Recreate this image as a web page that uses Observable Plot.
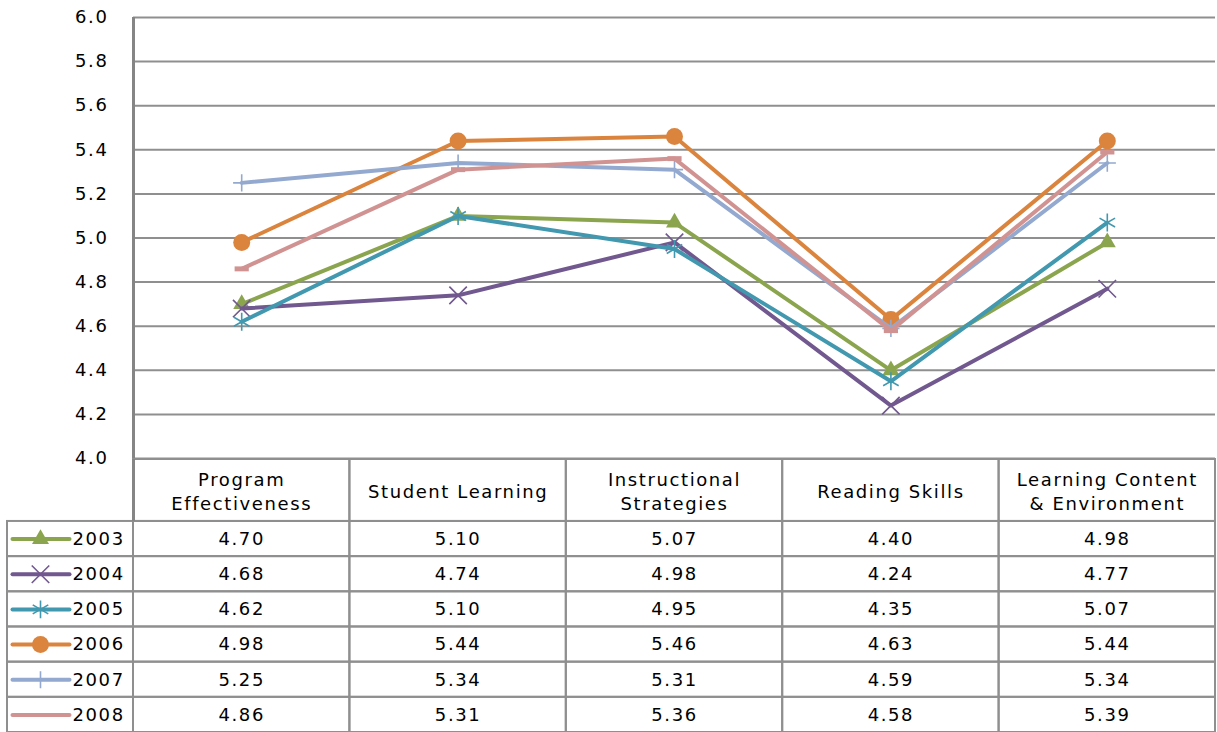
<!DOCTYPE html>
<html><head><meta charset="utf-8">
<script src="https://cdn.jsdelivr.net/npm/d3@7"></script>
<script src="https://cdn.jsdelivr.net/npm/@observablehq/plot@0.6"></script>
<style>
body{margin:0;background:#fff;}
#chart svg{display:block;}
#chart svg text{letter-spacing:1.6px;}
</style></head><body><div id="chart"></div>
<script>
// ---- data ----
const categories = ["Program\nEffectiveness", "Student Learning", "Instructional\nStrategies", "Reading Skills", "Learning Content\n& Environment"];
const years = ["2003", "2004", "2005", "2006", "2007", "2008"];
const v2003 = [4.70, 5.10, 5.07, 4.40, 4.98];
const v2004 = [4.68, 4.74, 4.98, 4.24, 4.77];
const v2005 = [4.62, 5.10, 4.95, 4.35, 5.07];
const v2006 = [4.98, 5.44, 5.46, 4.63, 5.44];
const v2007 = [5.25, 5.34, 5.31, 4.59, 5.34];
const v2008 = [4.86, 5.31, 5.36, 4.58, 5.39];
const yTicks = [4.0, 4.2, 4.4, 4.6, 4.8, 5.0, 5.2, 5.4, 5.6, 5.8, 6.0];

// ---- styles ----
const series = [v2003, v2004, v2005, v2006, v2007, v2008];
const colors = ["#8BA54F", "#71588F", "#4198AF", "#DB843D", "#93A9CF", "#D19392"];
const dash = {draw(ctx, size) { const s = Math.sqrt(size); ctx.rect(-s * 0.8, -s * 0.28, s * 1.6, s * 0.56); }};
const markers = [
  {symbol: "triangle", r: 6.3, filled: true},
  {symbol: "times", r: 8, filled: false},
  {symbol: "asterisk", r: 8.5, filled: false},
  {symbol: "circle", r: 8.5, filled: true},
  {symbol: "plus", r: 5.6, filled: false},
  {symbol: dash, r: 5, filled: true}
];
const gridColor = "#8f8f8f";
const font = {fontFamily: "'DejaVu Sans', sans-serif", fontSize: "18px", color: "#000", overflow: "visible", background: "transparent"};

const rows = years.flatMap((yr, s) => series[s].map((v, i) => ({year: yr, s, i, value: v})));

const W = 1217;
const chartLeft = 133, chartRight = 2;
const colPx = (W - chartLeft - chartRight) / categories.length;

// ---- line chart ----
const lineMarks = [];
years.forEach((yr, s) => {
  const d = rows.filter(r => r.s === s);
  const m = markers[s];
  lineMarks.push(Plot.line(d, {x: r => r.i + 0.5, y: "value", stroke: colors[s], strokeWidth: 4}));
  lineMarks.push(Plot.dot(d, {x: r => r.i + 0.5, y: "value", symbol: () => m.symbol, r: m.r,
    fill: m.filled ? colors[s] : "none", stroke: m.filled ? "none" : colors[s], strokeWidth: 1.6}));
});

const chart = Plot.plot({
  width: W, height: 459,
  marginTop: 17, marginBottom: 1, marginLeft: chartLeft, marginRight: chartRight,
  style: font,
  x: {domain: [0, categories.length], axis: null},
  y: {domain: [4, 6], ticks: yTicks, tickFormat: d => d.toFixed(1), tickSize: 0, tickPadding: 25, label: null},
  symbol: {type: "identity"},
  marks: [
    Plot.ruleY(yTicks, {stroke: gridColor, strokeWidth: 2}),
    Plot.ruleX([0], {stroke: "#858585", strokeWidth: 3}),
    ...lineMarks
  ]
});

// ---- data table ----
const legendPx = chartLeft - 7;
const legendU = legendPx / colPx;      // legend column width in column units
const rowPx = 35.2;
const headerU = 62 / rowPx;           // header height in row units
const px = 1 / colPx;                 // one pixel in column units

const headerCells = categories.map((c, i) => ({c, i}));
const bodyCells = years.flatMap((yr, r) => [{x1: -legendU, x2: 0, r}, ...categories.map((c, i) => ({x1: i, x2: i + 1, r}))]);
const legendRows = years.map((yr, s) => ({yr, s}));

const legendMarks = [];
legendRows.forEach(({yr, s}) => {
  const m = markers[s];
  legendMarks.push(Plot.link([yr], {x1: -legendU + 5 * px, x2: -legendU + 62 * px, y1: s + 0.5, y2: s + 0.5, stroke: colors[s], strokeWidth: 4, strokeLinecap: "round"}));
  if (s < 5) legendMarks.push(Plot.dot([yr], {x: -legendU + 33 * px, y: s + 0.5, symbol: () => m.symbol, r: m.r,
    fill: m.filled ? colors[s] : "none", stroke: m.filled ? "none" : colors[s], strokeWidth: 1.6}));
});

const table = Plot.plot({
  width: W, height: 273,
  marginTop: 0, marginBottom: 0, marginLeft: chartLeft - legendPx, marginRight: chartRight,
  style: font,
  x: {domain: [-legendU, categories.length], axis: null},
  y: {domain: [years.length, -headerU], axis: null},
  symbol: {type: "identity"},
  marks: [
    Plot.rect(headerCells, {x1: d => d.i, x2: d => d.i + 1, y1: -headerU, y2: 0, fill: "none", stroke: gridColor, strokeWidth: 2}),
    Plot.rect(bodyCells, {x1: "x1", x2: "x2", y1: d => d.r, y2: d => d.r + 1, fill: "none", stroke: gridColor, strokeWidth: 2}),
    Plot.ruleX([0], {y1: -headerU, y2: 0, stroke: "#858585", strokeWidth: 3}),
    Plot.text(headerCells, {x: d => d.i + 0.5, y: -headerU / 2, text: "c", lineHeight: 1.33, fill: "#000"}),
    Plot.text(rows, {x: d => d.i + 0.5, y: d => d.s + 0.5, text: d => d.value.toFixed(2), fill: "#000"}),
    ...legendMarks,
    Plot.text(legendRows, {x: -legendU + 65 * px, y: d => d.s + 0.5, text: "yr", textAnchor: "start", fill: "#000"})
  ]
});

const root = document.getElementById("chart");
root.appendChild(chart);
root.appendChild(table);
</script></body></html>
